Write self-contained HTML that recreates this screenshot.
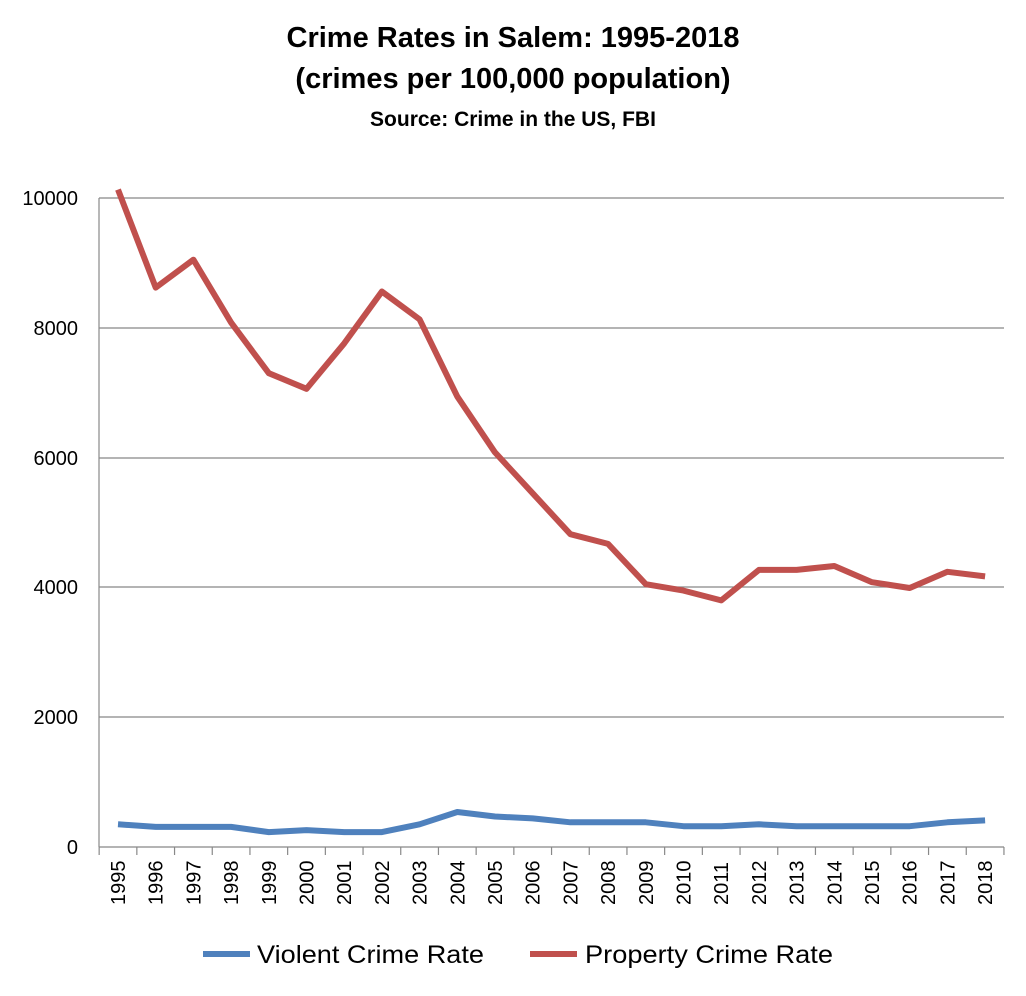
<!DOCTYPE html>
<html><head><meta charset="utf-8"><style>
html,body{margin:0;padding:0;background:#fff;}
svg{display:block;font-family:"Liberation Sans",sans-serif;}
</style></head><body>
<svg width="1026" height="996" viewBox="0 0 1026 996">
<text x="513" y="47" text-anchor="middle" font-size="29" font-weight="bold">Crime Rates in Salem: 1995-2018</text>
<text x="513" y="88" text-anchor="middle" font-size="29" font-weight="bold">(crimes per 100,000 population)</text>
<text x="513" y="126" text-anchor="middle" font-size="21" font-weight="bold">Source: Crime in the US, FBI</text>
<g stroke="#888" stroke-width="1.2">
<line x1="99" y1="198" x2="1004" y2="198"/>
<line x1="99" y1="328" x2="1004" y2="328"/>
<line x1="99" y1="458" x2="1004" y2="458"/>
<line x1="99" y1="587" x2="1004" y2="587"/>
<line x1="99" y1="717" x2="1004" y2="717"/>
<line x1="99" y1="847" x2="1004" y2="847"/>
<line x1="99" y1="198" x2="99" y2="847"/>
</g>
<g stroke="#888" stroke-width="1.2" id="ticks"></g>
<g font-size="20" text-anchor="end" fill="#000">
<text x="78" y="205">10000</text>
<text x="78" y="335">8000</text>
<text x="78" y="465">6000</text>
<text x="78" y="594">4000</text>
<text x="78" y="724">2000</text>
<text x="78" y="854">0</text>
</g>
<g font-size="20" fill="#000" id="xl"></g>
<polyline fill="none" stroke="#c0504d" stroke-width="6" stroke-linejoin="round" points="118,189.6 155.7,287.6 193.4,259.7 231.1,322.6 268.8,373.2 306.5,388.8 344.2,343.4 381.9,291.5 419.6,319.4 457.3,396.6 495,452.4 532.7,493.3 570.4,534.2 608.1,543.9 645.8,584.2 683.5,590.6 721.2,600.4 758.9,569.9 796.6,569.9 834.3,566 872,582.2 909.7,588 947.4,571.8 985.1,576.4"/>
<polyline fill="none" stroke="#4f81bd" stroke-width="6" stroke-linejoin="round" points="118,824.3 155.7,826.9 193.4,826.9 231.1,826.9 268.8,832.1 306.5,830.1 344.2,832.1 381.9,832.1 419.6,824.3 457.3,812 495,816.5 532.7,818.4 570.4,822.3 608.1,822.3 645.8,822.3 683.5,826.2 721.2,826.2 758.9,824.3 796.6,826.2 834.3,826.2 872,826.2 909.7,826.2 947.4,822.3 985.1,820.4"/>
<line x1="203" y1="954" x2="250" y2="954" stroke="#4f81bd" stroke-width="6"/>
<text x="257" y="963" font-size="25" textLength="227" lengthAdjust="spacingAndGlyphs">Violent Crime Rate</text>
<line x1="530" y1="954" x2="577" y2="954" stroke="#c0504d" stroke-width="6"/>
<text x="585" y="963" font-size="25" textLength="248" lengthAdjust="spacingAndGlyphs">Property Crime Rate</text>
<script>
var t=document.getElementById('ticks'),xl=document.getElementById('xl'),ns='http://www.w3.org/2000/svg';
for(var i=0;i<=24;i++){var x=99.15+37.7*i;var l=document.createElementNS(ns,'line');l.setAttribute('x1',x);l.setAttribute('x2',x);l.setAttribute('y1',847);l.setAttribute('y2',855);t.appendChild(l);}
for(var i=0;i<24;i++){var x=118+37.7*i+7;var e=document.createElementNS(ns,'text');e.setAttribute('transform','translate('+x+',905) rotate(-90)');e.textContent=1995+i;xl.appendChild(e);}
</script>
</svg>
</body></html>
